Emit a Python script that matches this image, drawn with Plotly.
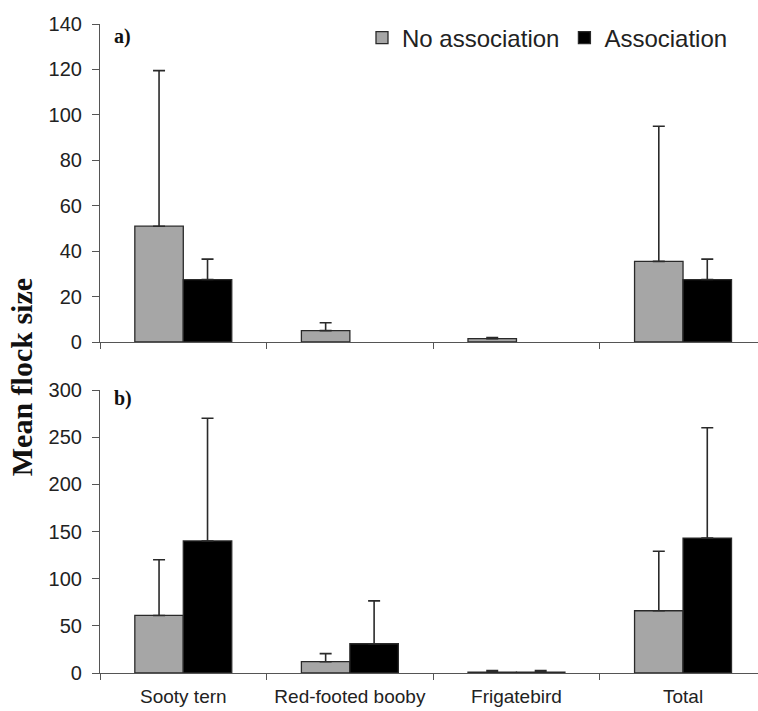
import plotly.graph_objects as go

categories = ["Sooty tern", "Red-footed booby", "Frigatebird", "Total"]

# Panel a
a_no_assoc = [51, 5, 1.5, 35.5]
a_no_assoc_err = [68.5, 3.5, 0.5, 59.5]
a_assoc = [27.5, None, None, 27.5]
a_assoc_err = [9, None, None, 9]

# Panel b
b_no_assoc = [61, 12, 1, 66]
b_no_assoc_err = [59, 8.5, 1.5, 63]
b_assoc = [140, 31, 1, 143]
b_assoc_err = [130, 45.5, 1.5, 117]

GRAY = "#a6a6a6"
BLACK = "#000000"
EDGE = "#2a2a2a"
AXIS = "#555555"

def err(vals):
    return dict(type="data", symmetric=False, array=vals,
                arrayminus=[0] * len(vals), color=EDGE, thickness=1.6, width=6)

fig = go.Figure()
fig.add_trace(go.Bar(x=categories, y=a_no_assoc, name="No association",
                     marker=dict(color=GRAY, line=dict(color=EDGE, width=1.3)),
                     error_y=err(a_no_assoc_err), xaxis="x", yaxis="y",
                     legendgroup="na", showlegend=True))
fig.add_trace(go.Bar(x=categories, y=a_assoc, name="Association",
                     marker=dict(color=BLACK, line=dict(color=EDGE, width=1.3)),
                     error_y=err(a_assoc_err), xaxis="x", yaxis="y",
                     legendgroup="a", showlegend=True))
fig.add_trace(go.Bar(x=categories, y=b_no_assoc, name="No association",
                     marker=dict(color=GRAY, line=dict(color=EDGE, width=1.3)),
                     error_y=err(b_no_assoc_err), xaxis="x2", yaxis="y2",
                     legendgroup="na", showlegend=False))
fig.add_trace(go.Bar(x=categories, y=b_assoc, name="Association",
                     marker=dict(color=BLACK, line=dict(color=EDGE, width=1.3)),
                     error_y=err(b_assoc_err), xaxis="x2", yaxis="y2",
                     legendgroup="a", showlegend=False))

tickfont = dict(family="Liberation Sans, Arial", size=20, color="#222222")

xcommon = dict(type="category", range=[-0.5, 3.45], tickson="boundaries",
               ticks="outside", ticklen=6, tickcolor=AXIS, tickwidth=1.2,
               showline=True, linecolor=AXIS, linewidth=1.2,
               showgrid=False, zeroline=False, fixedrange=True, automargin=False,
               categoryorder="array", categoryarray=categories)
ycommon = dict(ticks="outside", ticklen=7, tickcolor=AXIS, tickwidth=1.2,
               showline=True, linecolor=AXIS, linewidth=1.2, automargin=False,
               showgrid=False, zeroline=False, tickfont=tickfont,
               ticklabelstandoff=6, fixedrange=True)

fig.update_layout(
    width=758, height=711,
    margin=dict(l=100, r=0, t=0, b=38, autoexpand=False),
    paper_bgcolor="white", plot_bgcolor="white",
    barmode="group", bargap=0.418, bargroupgap=0,
    xaxis=dict(**xcommon, domain=[0, 1], anchor="y", showticklabels=False),
    yaxis=dict(**ycommon, domain=[0.4918, 0.9643], range=[0, 140], dtick=20, anchor="x"),
    xaxis2=dict(**xcommon, domain=[0, 1], anchor="y2", showticklabels=True,
                tickfont=dict(family="Liberation Sans, Arial", size=19, color="#222222"),
                ticklabelstandoff=6),
    yaxis2=dict(**ycommon, domain=[0, 0.4205], range=[0, 300], dtick=50, anchor="x2"),
    legend=dict(orientation="h", x=0.962, xanchor="right", y=0.9435, yanchor="middle",
                font=dict(family="Liberation Sans, Arial", size=24, color="#222222"),
                bgcolor="rgba(0,0,0,0)", itemwidth=30, tracegroupgap=0),
    showlegend=True,
    annotations=[
        dict(text="<b>a)</b>", xref="paper", yref="paper", x=0.018, y=0.9465,
             xanchor="left", yanchor="middle", showarrow=False,
             font=dict(family="Liberation Serif, Times New Roman", size=20, color="#111111")),
        dict(text="<b>b)</b>", xref="paper", yref="paper", x=0.018, y=0.4086,
             xanchor="left", yanchor="middle", showarrow=False,
             font=dict(family="Liberation Serif, Times New Roman", size=20, color="#111111")),
        dict(text="<b>Mean flock size</b>", xref="paper", yref="paper",
             x=-0.118, y=0.44, xanchor="center", yanchor="middle", textangle=-90,
             showarrow=False,
             font=dict(family="Liberation Serif, Times New Roman", size=30, color="#111111")),
    ],
)

fig.write_html("out.html", config={"displayModeBar": False},
               post_script="document.body.style.margin='0';document.body.style.overflow='hidden';")
